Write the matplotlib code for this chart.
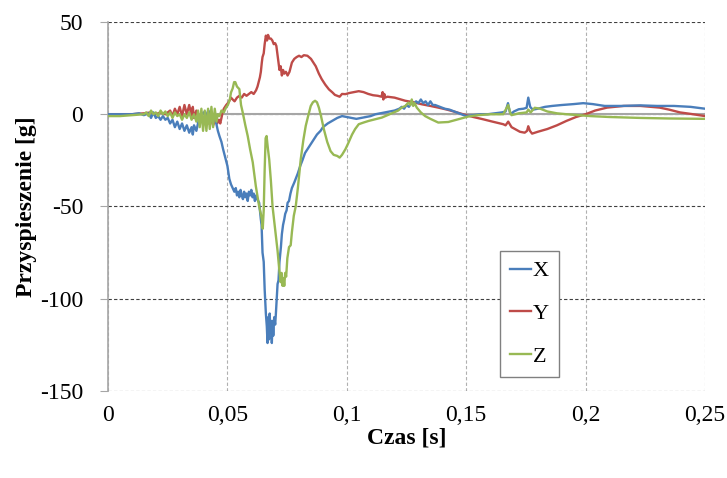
import numpy as np
import matplotlib
matplotlib.use("Agg")
import matplotlib.pyplot as plt
from matplotlib.ticker import FuncFormatter

plt.rcParams['font.family'] = ['Liberation Serif', 'DejaVu Serif']
plt.rcParams['axes.unicode_minus'] = False

## values: time in ms, acceleration in g
t_x = np.array([0, 5, 10, 13, 15, 17, 18, 19, 20, 21, 22, 23, 24, 25, 26, 27, 28, 29, 30, 31,
                32, 33, 34, 35, 35.5, 36, 37, 38, 39, 40, 41, 42, 43, 44, 45, 45.5, 46, 46.7, 47.5, 48.2,
                49, 49.4, 50, 50.8, 51.5, 52.2, 52.9, 53.5, 54, 54.5, 55, 55.5, 56, 56.5, 57, 57.5, 58, 58.5, 59, 59.5,
                60, 60.5, 61, 61.5, 62, 62.5, 63.3, 64, 64.3, 64.7, 65.2, 65.6, 66.1, 66.5, 66.8, 67.1, 67.4, 67.7, 68.0, 68.3,
                68.6, 68.9, 69.2, 69.6, 70.0, 70.3, 71.0, 71.4, 71.8, 72.4, 72.8, 73.3, 73.8, 74.2, 74.8, 75.2, 75.8, 76.4,
                77, 78, 78.6, 79.5, 80.5, 81.4, 82.5, 83.5, 85, 86, 87.5, 89, 90, 92, 94, 96, 98, 100,
                102, 104, 106, 108, 110, 112, 114, 116, 118, 120, 122, 123, 124, 125, 126, 127, 128, 129, 130, 131,
                132, 133, 134, 135, 136, 137, 139, 141, 143, 145, 147, 150, 153, 156, 159, 162, 165, 166.5, 167.5, 168.3,
                169, 170, 172, 174, 175.3, 176, 176.8, 177.5, 178, 180, 183, 186, 190, 195, 199, 203, 208, 215, 223, 230,
                237, 244, 250])
x_vals = np.array([0, 0, 0, 0.5, -0.5, 0.5, -2, 1, -2, -1, -3, -1, -3, -2, -5, -3, -7, -4, -8, -5,
                   -9, -6, -10, -7, -11, -6, -9, -3, -1, 1, -1, 2, 0, -2, -3, -6, -9, -12, -15, -19,
                   -23, -25, -28, -35, -38, -40, -42, -40, -44, -42, -45, -41, -44, -46, -42, -45, -43, -47, -42, -44,
                   -41, -45, -43, -47, -44, -46, -48, -57, -60, -75, -80, -95, -108, -115, -124, -110, -122, -108, -118, -112,
                   -124, -112, -120, -110, -114, -108, -92, -90, -80, -72, -65, -60, -57, -54, -52, -48, -47, -43,
                   -40, -37, -35, -32, -28, -25, -21, -19, -16, -14, -11, -9, -7, -5, -3.5, -2, -1, -1.5,
                   -2, -2.5, -2, -1.5, -1, 0, 0.5, 1, 1.5, 2, 3, 4, 3, 5, 4, 6, 5, 7, 6, 8,
                   6, 7, 5, 7, 5, 5, 4, 3, 2.5, 1.5, 0.5, -1, -0.5, 0, 0, 0.5, 1, 1.5, 6, 1,
                   0.5, 1.5, 2.7, 3, 3.5, 9, 4, 3, 2.5, 3, 4, 4.5, 5, 5.5, 6, 5.5, 4.5, 4.5, 4.8, 4.5,
                   4.5, 4, 3])

t_y = np.array([0, 10, 15, 18, 20, 22, 24, 26, 27, 28, 29, 30, 31, 32, 33, 34, 35, 35.5, 36, 37,
                38, 39, 40, 41, 42, 43, 44, 45, 45.7, 46.5, 47, 47.5, 48, 48.5, 49.5, 50.5, 51.5, 52.2, 53, 54,
                55, 56, 57, 58, 59, 60, 61, 62, 62.6, 63.2, 63.6, 64, 64.4, 64.7, 65.2, 65.6, 66.1, 66.6, 67, 67.6,
                68.2, 68.8, 69.4, 70, 70.5, 71, 71.4, 71.8, 72.3, 72.8, 73.3, 73.8, 74.5, 75.2, 76, 77, 78, 79, 80, 81,
                82, 83.5, 85, 86, 87, 88.3, 89.5, 91, 92.5, 94, 95, 96, 97, 98, 99.4, 101, 103, 105, 107, 109,
                111, 113, 114.5, 115, 115.3, 115.7, 116, 117, 120, 124.5, 128, 131.4, 135, 138.3, 142, 145.3, 150, 153, 157, 161,
                165.5, 166.5, 167.6, 169, 172.5, 174.5, 175.5, 176, 176.7, 177.6, 180, 184, 188, 192, 196, 200, 204, 209, 216, 223,
                231, 235, 239.5, 245, 250])
y_vals = np.array([0, 0, 0.5, 1, 0, 1, 0, 2, -1, 3, 0, 4, -1, 5, 0, 5, -1, 4, -2, 2,
                   -3, 0, -4, -1, -5, -2, -6, -3, -5, -3, -5, -2, 1, 3, 5, 6.5, 9, 8, 7, 9,
                   10, 9, 11, 10, 11, 12, 11, 13, 15, 18, 20, 23, 28, 31, 33, 38, 42.6, 40, 43, 41,
                   41, 40, 38, 38.5, 37, 32, 28, 24, 26, 21, 24, 22, 23, 21, 23, 28, 30, 31, 31.7, 31,
                   32, 31.7, 30, 28, 26, 22, 19, 16, 13.5, 11.8, 10.5, 10, 9.5, 11, 10.9, 11.5, 12, 12.5, 12, 11,
                   10.3, 10, 9.5, 12, 8, 11, 9, 9.5, 9, 7.3, 6.5, 5.4, 4.5, 3.6, 2.5, 1.3, -0.5, -1.5, -2.7, -4,
                   -5.4, -6, -4, -7, -9.5, -10, -9, -6.5, -9, -10.5, -9.5, -8, -6, -3.6, -1.5, 0, 2, 3.6, 4.5, 4.5,
                   3.6, 2.5, 1, 0, -1])

t_z = np.array([0, 5, 10, 15, 16, 17, 18, 19, 20, 21, 22, 23, 24, 25, 26, 27, 28, 29, 30, 31,
                32, 33, 34, 35, 36, 37, 37.7, 38.4, 39.1, 39.8, 40.5, 41.2, 41.9, 42.6, 43.3, 44, 44.7, 45.4, 46, 46.7,
                47.5, 48.5, 49.4, 50.2, 51, 51.5, 52.2, 52.8, 53.3, 54, 55, 55.7, 56.4, 57.5, 58.5, 59.5, 60.6, 61.9, 63.3, 64.0,
                64.4, 64.8, 65.2, 65.6, 66.0, 66.4, 66.9, 67.5, 68.2, 68.9, 69.6, 70.3, 71, 71.7, 72.3, 72.7, 73.1, 73.5, 73.8, 74.2,
                74.6, 75.1, 75.8, 76.5, 77, 77.8, 78.6, 79.5, 80.7, 81.8, 82.8, 83.8, 84.9, 85.8, 86.7, 87.5, 88.3, 89.2, 90.4, 91.8,
                93.2, 94.5, 96, 97, 98, 99.4, 100.5, 102.2, 103.5, 105, 107, 109.2, 112, 114.7, 117, 119.6, 121.5, 123, 124.5, 125.8,
                126.6, 127.2, 127.8, 128.4, 129.3, 131, 132.8, 135, 138.3, 142.5, 146.7, 151, 155, 160, 165.5, 167.6, 168.5, 169, 172, 175.3,
                176, 177, 178.7, 181, 184, 188, 192, 197, 202, 210, 223, 235, 250])
z_vals = np.array([-1, -1, -0.5, 0, 1, -1, 2, 0, 1, -1, 2, 0, 1.5, -1, 1, -2, 1, -1, 0, -3,
                   0, -2, 1, -3, 0, -4, 2, -7, 3, -9, 2, -9, 3, -8, 4, -7, 3, -4, 0, -1,
                   2, 1, 3.6, 5, 8, 11.8, 14, 17.4, 17.4, 15, 13.6, 5, 1, -6, -11.8, -19, -26, -39, -50, -54,
                   -57, -62, -52, -30, -13, -11.8, -18, -24.5, -36, -50, -58, -66, -74, -84, -91, -86, -93, -89, -93, -86,
                   -88, -78, -72, -71, -64, -55, -50, -40, -24.5, -14, -6.3, -1, 4.5, 6.5, 7.3, 6.5, 3.6, -1, -8.2, -15,
                   -20, -22, -22.6, -23.5, -22, -19, -16, -11, -8, -5.4, -4.5, -3.6, -2.7, -1.8, -0.5, 1, 2, 3.6, 4.5, 6.3,
                   5, 8, 4.5, 6, 3.6, 1, -1, -2.5, -4.5, -4.2, -2.7, -1.2, -0.5, 0, 0, 5, 0.5, -0.5, 0.5, 1,
                   2.5, 1, 3.5, 3, 1.5, 0.5, 0, -0.5, -1, -1.5, -2, -2.3, -2.5])

x_ticks = [0, 0.05, 0.1, 0.15, 0.2, 0.25]
y_ticks = [-150, -100, -50, 0, 50]

fig = plt.figure(figsize=(7.27, 4.78), dpi=100)
ax = fig.add_axes([0.1486, 0.182, 0.8211, 0.772])

ax.plot(t_x / 1000, x_vals, color='#4A7EBB', lw=1.7, label='X', zorder=4)
ax.plot(t_y / 1000, y_vals, color='#BE4B48', lw=1.7, label='Y', zorder=3)
ax.plot(t_z / 1000, z_vals, color='#98B954', lw=1.7, label='Z', zorder=5)

ax.set_xlim(0, 0.25)
ax.set_ylim(-150, 50)
ax.set_xticks(x_ticks)
ax.set_yticks(y_ticks)
ax.xaxis.set_major_formatter(FuncFormatter(lambda v, p: f"{v:g}".replace('.', ',')))

## grid: dark dashed horizontals, light dashed verticals, solid zero line
ax.yaxis.grid(True, color='#404040', ls=(0, (3, 2)), lw=0.8)
ax.xaxis.grid(True, color='#B0B0B0', ls=(0, (3, 2)), lw=0.8)
ax.set_axisbelow(True)
ax.axhline(0, color='#A6A6A6', lw=1.5, zorder=2)

for s in ['top', 'right', 'bottom']:
    ax.spines[s].set_visible(False)
ax.spines['left'].set_color('#A6A6A6')
ax.spines['left'].set_linewidth(1.2)

ax.tick_params(axis='y', length=6, color='#A6A6A6', labelsize=17, pad=12)
ax.tick_params(axis='x', length=0, labelsize=17, pad=10)

ax.set_xlabel('Czas [s]', fontsize=17, fontweight='bold', labelpad=1)
ax.set_ylabel('Przyspieszenie [g]', fontsize=17, fontweight='bold', labelpad=2)

leg = ax.legend(loc='lower left', bbox_to_anchor=(0.657, 0.038), fontsize=16,
                handlelength=0.95, handletextpad=0.05, labelspacing=1.0,
                borderaxespad=0, fancybox=False, framealpha=1, borderpad=0.45)
leg.get_frame().set_edgecolor('#808080')
leg.get_frame().set_linewidth(1.0)

plt.savefig('out.png', dpi=100)
